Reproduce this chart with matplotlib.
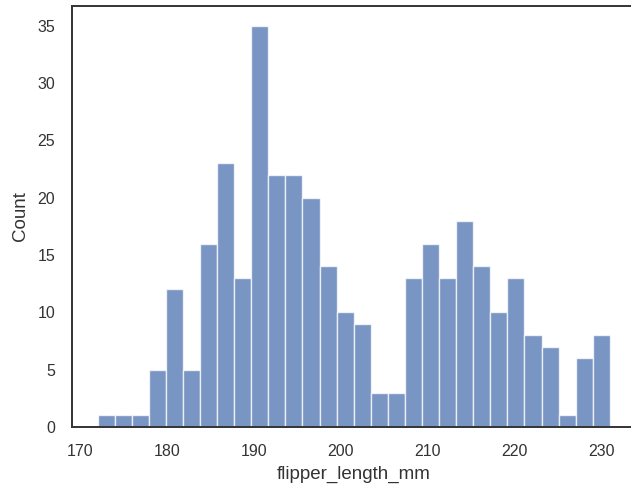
import numpy as np
import matplotlib
matplotlib.use("Agg")
import matplotlib.pyplot as plt
import seaborn as sns

# penguin flipper lengths, 30 equal-width bins from 172 to 231 mm
bin_lo = 172
bin_hi = 231
counts = [1, 1, 1, 5, 12, 5, 16, 23, 13, 35, 22, 22, 20, 14, 10,
          9, 3, 3, 13, 16, 13, 18, 14, 10, 13, 8, 7, 1, 6, 8]
xticks = [170, 180, 190, 200, 210, 220, 230]
yticks = [0, 5, 10, 15, 20, 25, 30, 35]

sns.set_theme(style="white")
plt.rcParams['font.family'] = ['Liberation Sans', 'DejaVu Sans']

edges = np.linspace(bin_lo, bin_hi, len(counts) + 1)
width = np.diff(edges)

fig = plt.figure(figsize=(6.31, 4.84), dpi=100)
ax = fig.add_axes([0.114, 0.118, 0.893, 0.870])
ax.bar(edges[:-1], counts, width=width, align="edge",
       color="#4C72B0", alpha=0.75, edgecolor="white", linewidth=1.0)
ax.margins(x=0.05, y=0.05)
ax.set_xticks(xticks)
ax.set_yticks(yticks)
ax.tick_params(labelsize=11.5, colors="#333333", pad=6)
for s in ax.spines.values():
    s.set_color("#333333")
    s.set_linewidth(1.4)
ax.set_xlabel("flipper_length_mm", fontsize=13.5, color="#333333", labelpad=5)
ax.set_ylabel("Count", fontsize=13.5, color="#333333", labelpad=6)

fig.savefig("out.png", dpi=100)
